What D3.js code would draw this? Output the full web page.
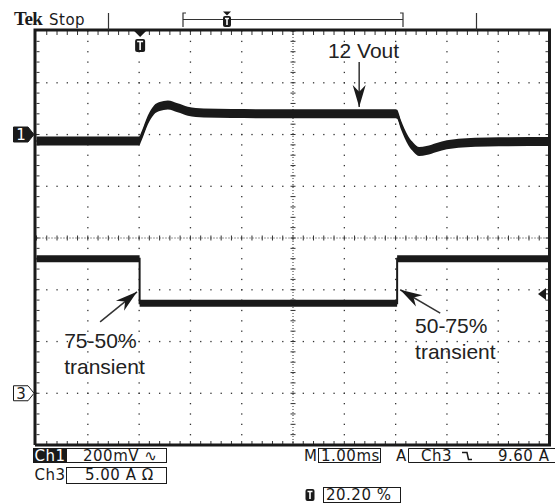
<!DOCTYPE html>
<html lang="en">
<head>
<meta charset="UTF-8">
<title>Load step transient (Tek scope capture)</title>
<script src="https://d3js.org/d3.v7.min.js"></script>
<style>
  html, body { margin: 0; padding: 0; background: #fff; }
  svg { display: block; }
  .scope { font-family: "DejaVu Sans", sans-serif; font-size: 15px; letter-spacing: 0.5px; }
  .note { font-family: "Liberation Sans", Arial, sans-serif; font-size: 21px; fill: #222; }
</style>
</head>
<body>
<svg id="chart" width="555" height="504"></svg>
<script>
// Ch1: output voltage ripple (mV, AC coupled), time in ms (1 ms/div, 10 div)
const ch1Time = [0, 1.0, 2.0, 2.05, 2.17, 2.29, 2.4, 2.56, 2.75, 2.95, 3.26, 3.8, 5.0, 6.0, 7.0, 7.03, 7.1, 7.25, 7.35, 7.46, 7.6, 7.8, 8.0, 8.3, 8.8, 10];
const ch1mV   = [-25, -25, -25, -5, 56, 95, 108, 114, 103, 90, 83, 81, 80, 80, 80, 78, 40, -25, -50, -66, -62, -50, -40, -33, -29, -27];
// Ch3: load current (A)
const ch3Time = [0, 2.01, 2.01, 7.03, 7.03, 10];
const ch3Amps = [13.0, 13.0, 8.7, 8.7, 13.0, 13.0];

// channel settings (per division / offset in divisions)
const ch1PerDiv = 200, ch1Offset = 2;
const ch3PerDiv = 5, ch3Offset = -3;
const trigLevel = 9.6;     // A
const trigTime = 2.02;     // ms, trigger point on screen

// readout texts
const ch1Readout = ['Ch1', '200mV \u223F'];
const ch3Readout = ['Ch3', '5.00 A \u03A9'];
const timeReadout = ['M', '1.00ms'];
const trigReadout = ['A', 'Ch3', '9.60 A'];
const posReadout = '20.20 %';

// annotations, in ms / divisions
const notes = [
  { lines: ['12 Vout'], t: 5.68, d: 3.47, tail: [6.29, 3.40], tip: [6.29, 2.53] },
  { lines: ['75-50%', 'transient'], t: 0.54, d: -2.13, tail: [1.24, -1.62], tip: [1.96, -1.04] },
  { lines: ['50-75%', 'transient'], t: 7.38, d: -1.84, tail: [7.87, -1.45], tip: [7.09, -1.00] }
];

const x = d3.scaleLinear().domain([0, 10]).range([36.5, 549.5]);
const y = d3.scaleLinear().domain([-4, 4]).range([445, 31]);
const svg = d3.select('#chart');
const ink = '#1a1a1a';

// ---- graticule
const minorX = d3.range(0, 10.001, 0.2);
const minorY = d3.range(-4, 4.001, 0.2);
const grid = svg.append('g');
const dots = [];
d3.range(1, 10).filter(k => k !== 5).forEach(k => minorY.forEach(v => dots.push([k, v])));
d3.range(-3, 4).filter(k => k !== 0).forEach(k => minorX.forEach(t => dots.push([t, k])));
grid.selectAll('rect.dot').data(dots).join('rect')
  .attr('class', 'dot')
  .attr('x', d => x(d[0]) - 0.6).attr('y', d => y(d[1]) - 0.6)
  .attr('width', 1.3).attr('height', 1.3).attr('fill', '#333');

// center cross, densely dotted with minor ticks
grid.append('line').attr('x1', x(5)).attr('x2', x(5)).attr('y1', y(4)).attr('y2', y(-4))
  .attr('stroke', '#333').attr('stroke-dasharray', '1,2');
grid.append('line').attr('x1', x(0)).attr('x2', x(10)).attr('y1', y(0)).attr('y2', y(0))
  .attr('stroke', '#333').attr('stroke-dasharray', '1,2');
grid.selectAll('line.tv').data(minorY).join('line').attr('class', 'tv')
  .attr('x1', x(5) - 2.5).attr('x2', x(5) + 2.5).attr('y1', d => y(d)).attr('y2', d => y(d))
  .attr('stroke', '#333');
grid.selectAll('line.th').data(minorX).join('line').attr('class', 'th')
  .attr('y1', y(0) - 2.5).attr('y2', y(0) + 2.5).attr('x1', d => x(d)).attr('x2', d => x(d))
  .attr('stroke', '#333');

// edge ticks
const edgeX = minorX.slice(1, -1), edgeY = minorY.slice(1, -1);
grid.selectAll('line.et').data(edgeX).join('line').attr('class', 'et')
  .attr('x1', d => x(d)).attr('x2', d => x(d)).attr('y1', y(4)).attr('y2', y(4) + 4).attr('stroke', '#333');
grid.selectAll('line.eb').data(edgeX).join('line').attr('class', 'eb')
  .attr('x1', d => x(d)).attr('x2', d => x(d)).attr('y1', y(-4)).attr('y2', y(-4) - 4).attr('stroke', '#333');
grid.selectAll('line.el').data(edgeY).join('line').attr('class', 'el')
  .attr('y1', d => y(d)).attr('y2', d => y(d)).attr('x1', x(0)).attr('x2', x(0) + 3).attr('stroke', '#333');
grid.selectAll('line.er').data(edgeY).join('line').attr('class', 'er')
  .attr('y1', d => y(d)).attr('y2', d => y(d)).attr('x1', x(10)).attr('x2', x(10) - 4).attr('stroke', '#333');

// frame
svg.append('path')
  .attr('d', `M${x(0) - 1.5},${y(-4)} V${y(4) - 1} H${x(10)} V${y(-4)} H${x(0) - 1.5}`)
  .attr('fill', 'none').attr('stroke', ink).attr('stroke-width', 3);

// ---- traces
const ch1 = ch1Time.map((t, i) => [t, ch1mV[i] / ch1PerDiv + ch1Offset]);
const ch3 = ch3Time.map((t, i) => [t, ch3Amps[i] / ch3PerDiv + ch3Offset]);

function drawTrace(pts, half, curve) {
  svg.append('path')
    .attr('d', d3.area().curve(curve).x(d => x(d[0]))
      .y0(d => y(d[1]) - half).y1(d => y(d[1]) + half)(pts))
    .attr('fill', ink);
  svg.append('path')
    .attr('d', d3.line().curve(curve).x(d => x(d[0])).y(d => y(d[1]))(pts))
    .attr('fill', 'none').attr('stroke', ink).attr('stroke-width', 2);
}
drawTrace(ch1, 4.5, d3.curveMonotoneX);
drawTrace(ch3, 3.5, d3.curveLinear);

// helper: scope-style text with explicit colour
function label(parent, x0, y0, s, color) {
  return parent.append('text').attr('class', 'scope').attr('x', x0).attr('y', y0)
    .style('fill', color || ink).text(s);
}

// ---- channel ground markers
function chanMarker(num, off, filled) {
  const cy = y(off);
  svg.append('path')
    .attr('d', `M13.5,${cy - 7.5} H28 L34,${cy} L28,${cy + 7.5} H13.5 Z`)
    .attr('fill', filled ? ink : '#fff').attr('stroke', ink).attr('stroke-width', 1);
  label(svg, 21, cy + 5.5, num, filled ? '#fff' : ink)
    .attr('text-anchor', 'middle').style('letter-spacing', '0px');
}
chanMarker('1', ch1Offset, true);
chanMarker('3', ch3Offset, false);

// trigger level marker (right)
const ty = y(trigLevel / ch3PerDiv + ch3Offset);
svg.append('path').attr('d', `M538,${ty} L546,${ty - 6} L546,${ty + 6} Z`).attr('fill', ink);
svg.append('line').attr('x1', 545).attr('x2', 549).attr('y1', ty).attr('y2', ty).attr('stroke', ink);

// trigger position marker (top)
function tBadge(cx, top, w, h) {
  svg.append('rect').attr('x', cx - w / 2).attr('y', top).attr('width', w).attr('height', h)
    .attr('rx', 2).attr('fill', ink);
  svg.append('path')
    .attr('d', `M${cx - w / 2 + 2},${top + 2.5} H${cx + w / 2 - 2} M${cx},${top + 2.5} V${top + h - 2}`)
    .attr('stroke', '#fff').attr('stroke-width', 1.6);
}
const tx = x(trigTime);
svg.append('path').attr('d', `M${tx - 6},${y(4)} L${tx + 6},${y(4)} L${tx},${y(4) + 6} Z`).attr('fill', ink);
tBadge(tx, 39, 10, 13);

// ---- header
svg.append('text').attr('x', 14).attr('y', 25)
  .style('font-family', '"Liberation Serif", serif').style('font-weight', 'bold')
  .style('font-size', '19px').style('letter-spacing', '-0.5px').style('fill', ink).text('Tek');
label(svg, 49, 25, 'Stop');
svg.append('path')
  .attr('d', 'M108.5,13 V30 M476.5,13 V30 M186,13 H183 V27 M400,13 H403 V27 M183,19.5 H403')
  .attr('fill', 'none').attr('stroke', '#333').attr('stroke-width', 1.2);
svg.append('path').attr('d', 'M223,11.5 L231,11.5 L227,15.5 Z').attr('fill', ink);
tBadge(227, 16, 8, 11);

// ---- annotations
const arrowHead = (a, b, len, w) => {
  const dx = b[0] - a[0], dy = b[1] - a[1], L = Math.hypot(dx, dy);
  const ux = dx / L, uy = dy / L, px = -uy, py = ux;
  const bx = b[0] - ux * len, by = b[1] - uy * len;
  const nx = b[0] - ux * len * 0.7, ny = b[1] - uy * len * 0.7;
  return `M${b[0]},${b[1]} L${bx + px * w / 2},${by + py * w / 2} L${nx},${ny} L${bx - px * w / 2},${by - py * w / 2} Z`;
};
notes.forEach(n => {
  n.lines.forEach((s, i) => {
    svg.append('text').attr('class', 'note').attr('x', x(n.t)).attr('y', y(n.d) + i * 26).text(s);
  });
  const a = [x(n.tail[0]), y(n.tail[1])], b = [x(n.tip[0]), y(n.tip[1])];
  svg.append('line').attr('x1', a[0]).attr('y1', a[1]).attr('x2', b[0]).attr('y2', b[1])
    .attr('stroke', '#333').attr('stroke-width', 1.5);
  svg.append('path').attr('d', arrowHead(a, b, 22, 13)).attr('fill', ink);
});

// ---- status readouts
const sb = svg.append('g');
sb.append('rect').attr('x', 33).attr('y', 448).attr('width', 33).attr('height', 15).attr('fill', ink);
label(sb, 34.5, 461, ch1Readout[0], '#fff');
sb.append('rect').attr('x', 66.5).attr('y', 448.5).attr('width', 100).attr('height', 14)
  .attr('fill', 'none').attr('stroke', ink);
label(sb, 83, 461, ch1Readout[1]);

label(sb, 34.5, 480, ch3Readout[0]);
sb.append('rect').attr('x', 66.5).attr('y', 467.5).attr('width', 100).attr('height', 16)
  .attr('fill', 'none').attr('stroke', ink);
label(sb, 85, 480, ch3Readout[1]);

label(sb, 304, 461, timeReadout[0]);
sb.append('rect').attr('x', 318.5).attr('y', 448.5).attr('width', 62).attr('height', 14)
  .attr('fill', 'none').attr('stroke', ink);
label(sb, 321, 461, timeReadout[1]);

label(sb, 396, 461, trigReadout[0]);
sb.append('path').attr('d', 'M408.5,448.5 H560 M408.5,448.5 V462.5 H560')
  .attr('fill', 'none').attr('stroke', ink);
label(sb, 421, 461, trigReadout[1]);
sb.append('path').attr('d', 'M462,452.5 H467 L468.5,459.5 H472')
  .attr('fill', 'none').attr('stroke', ink).attr('stroke-width', 1.5);
label(sb, 498, 461, trigReadout[2]);

tBadge(310, 489, 9, 12);
sb.append('rect').attr('x', 323.5).attr('y', 487.5).attr('width', 77).attr('height', 15)
  .attr('fill', 'none').attr('stroke', ink);
label(sb, 326, 500, posReadout);
</script>
</body>
</html>
